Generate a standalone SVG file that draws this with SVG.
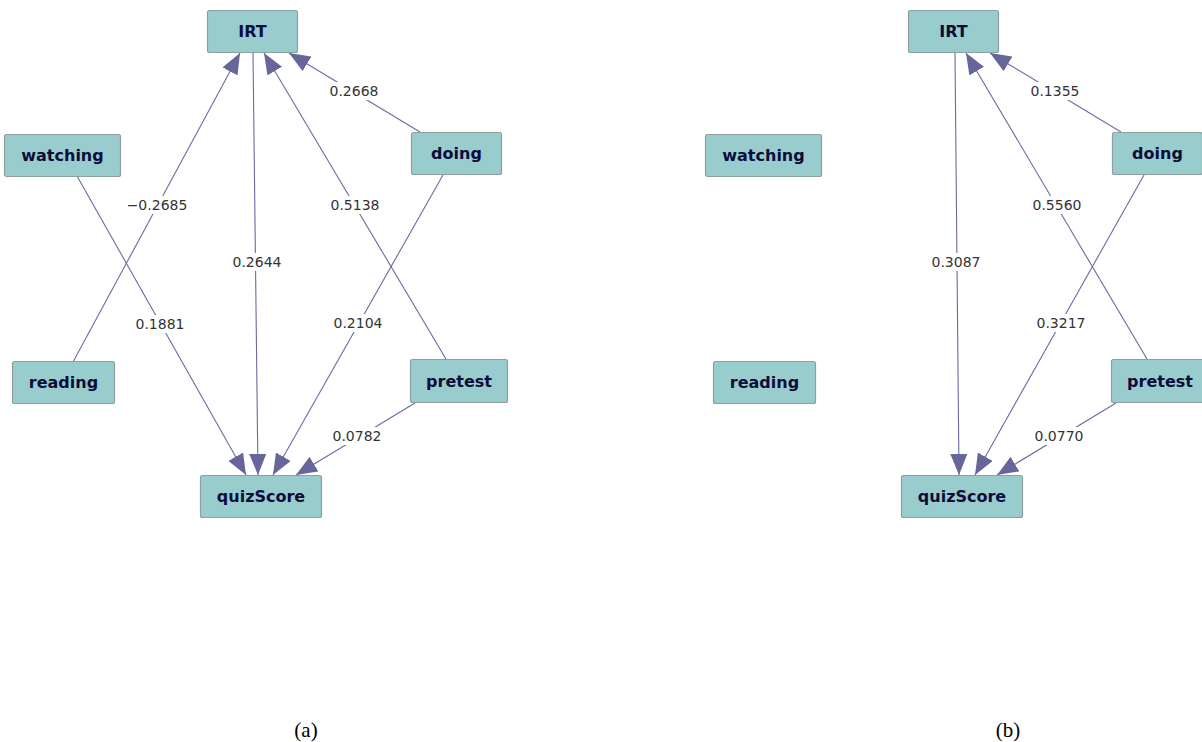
<svg xmlns="http://www.w3.org/2000/svg" width="1202" height="742" viewBox="0 0 1202 742">
<style>
.node rect{fill:#99cccc;stroke:#8f9e9e;stroke-width:1.2}
.node text{font-family:"DejaVu Sans",sans-serif;font-weight:bold;font-size:16px;fill:#0c0c3c;text-anchor:middle}
.edge{stroke:#6b6ba3;stroke-width:1.1;fill:none;marker-end:url(#arr)}
.lbl rect{fill:#ffffff}
.lbl text{font-family:"DejaVu Sans",sans-serif;font-size:14px;fill:#333333;text-anchor:middle}
.cap{font-family:"Liberation Serif",serif;font-size:21px;fill:#000;text-anchor:middle}
</style>
<defs>
<marker id="arr" viewBox="0 0 21 17" refX="21" refY="8.5" markerWidth="21" markerHeight="17" markerUnits="userSpaceOnUse" orient="auto">
<path d="M0,0 L21,8.5 L0,17 z" fill="#66669a"/>
</marker>
</defs>

<g id="panel-a">
<g id="connectors-a">
<line class="edge" x1="73" y1="362" x2="240" y2="53"/>
<line class="edge" x1="77" y1="176" x2="246" y2="475"/>
<line class="edge" x1="253" y1="53" x2="258" y2="475"/>
<line class="edge" x1="420" y1="132" x2="289" y2="53"/>
<line class="edge" x1="446" y1="359" x2="264" y2="53"/>
<line class="edge" x1="443" y1="175" x2="273" y2="475"/>
<line class="edge" x1="415" y1="403" x2="296" y2="475"/>
<g class="lbl"><rect x="127" y="196" width="60" height="18"/><text x="157" y="210">−0.2685</text></g>
<g class="lbl"><rect x="134" y="315" width="52" height="18"/><text x="160" y="329">0.1881</text></g>
<g class="lbl"><rect x="231" y="253" width="52" height="18"/><text x="257" y="267">0.2644</text></g>
<g class="lbl"><rect x="328" y="82" width="52" height="18"/><text x="354" y="96">0.2668</text></g>
<g class="lbl"><rect x="329" y="196" width="52" height="18"/><text x="355" y="210">0.5138</text></g>
<g class="lbl"><rect x="332" y="314" width="52" height="18"/><text x="358" y="328">0.2104</text></g>
<g class="lbl"><rect x="331" y="427" width="52" height="18"/><text x="357" y="441">0.0782</text></g>
</g>
<g id="a-IRT" class="node"><rect x="207.5" y="10.5" width="90" height="42" rx="2"/><text x="252.5" y="37">IRT</text></g>
<g id="a-watching" class="node"><rect x="4.5" y="134.5" width="116" height="42" rx="2"/><text x="62.5" y="161">watching</text></g>
<g id="a-doing" class="node"><rect x="411.5" y="132.5" width="90" height="42" rx="2"/><text x="456.5" y="159">doing</text></g>
<g id="a-reading" class="node"><rect x="12.5" y="361.5" width="102" height="42" rx="2"/><text x="63.5" y="388">reading</text></g>
<g id="a-pretest" class="node"><rect x="410.5" y="359.5" width="97" height="43" rx="2"/><text x="459" y="387">pretest</text></g>
<g id="a-quizScore" class="node"><rect x="200.5" y="475.5" width="121" height="42" rx="2"/><text x="261" y="502">quizScore</text></g>
<text class="cap" x="306" y="737">(a)</text>
</g>

<g id="panel-b" transform="translate(701,0)">
<g id="connectors-b">
<line class="edge" x1="254" y1="53" x2="258" y2="475"/>
<line class="edge" x1="420" y1="132" x2="289" y2="53"/>
<line class="edge" x1="446" y1="359" x2="265" y2="53"/>
<line class="edge" x1="443" y1="175" x2="274" y2="475"/>
<line class="edge" x1="415" y1="403" x2="296" y2="475"/>
<g class="lbl"><rect x="229" y="253" width="52" height="18"/><text x="255" y="267">0.3087</text></g>
<g class="lbl"><rect x="328" y="82" width="52" height="18"/><text x="354" y="96">0.1355</text></g>
<g class="lbl"><rect x="330" y="196" width="52" height="18"/><text x="356" y="210">0.5560</text></g>
<g class="lbl"><rect x="334" y="314" width="52" height="18"/><text x="360" y="328">0.3217</text></g>
<g class="lbl"><rect x="332" y="427" width="52" height="18"/><text x="358" y="441">0.0770</text></g>
</g>
<g id="b-IRT" class="node"><rect x="207.5" y="10.5" width="90" height="42" rx="2"/><text x="252.5" y="37">IRT</text></g>
<g id="b-watching" class="node"><rect x="4.5" y="134.5" width="116" height="42" rx="2"/><text x="62.5" y="161">watching</text></g>
<g id="b-doing" class="node"><rect x="411.5" y="132.5" width="90" height="42" rx="2"/><text x="456.5" y="159">doing</text></g>
<g id="b-reading" class="node"><rect x="12.5" y="361.5" width="102" height="42" rx="2"/><text x="63.5" y="388">reading</text></g>
<g id="b-pretest" class="node"><rect x="410.5" y="359.5" width="97" height="43" rx="2"/><text x="459" y="387">pretest</text></g>
<g id="b-quizScore" class="node"><rect x="200.5" y="475.5" width="121" height="42" rx="2"/><text x="261" y="502">quizScore</text></g>
<text class="cap" x="307" y="737">(b)</text>
</g>
</svg>
